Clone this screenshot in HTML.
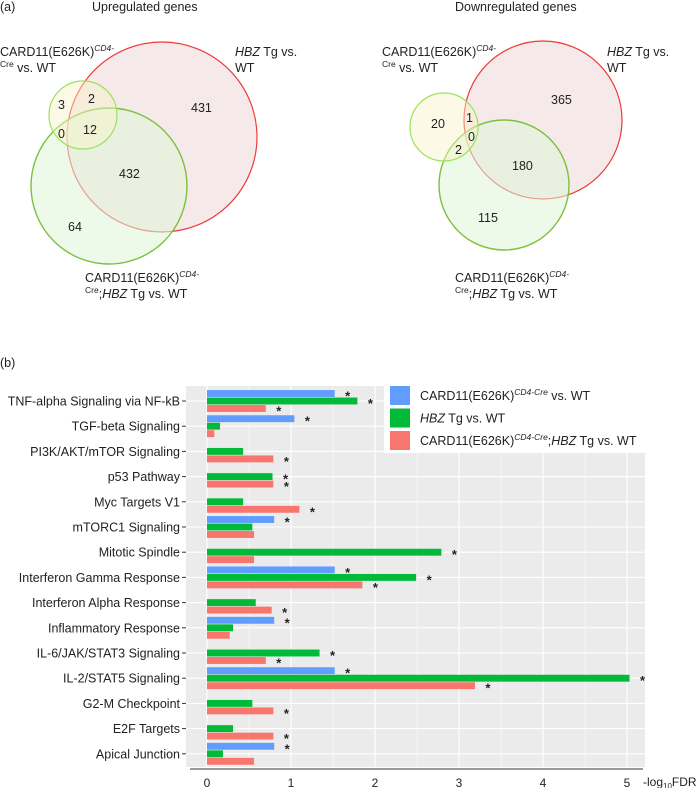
<!DOCTYPE html>
<html><head><meta charset="utf-8"><style>
body{margin:0;background:#fff;}
svg text{font-family:"Liberation Sans",sans-serif;fill:#222;}
</style></head><body>
<svg id="fig" width="698" height="788" xmlns="http://www.w3.org/2000/svg">
<g font-size="12.5">
<text x="0" y="11">(a)</text>
<text x="92" y="11">Upregulated genes</text>
<circle cx="162" cy="137" r="95" fill="#f3e3e3" fill-opacity="0.8" stroke="#ee3a3a" stroke-width="1.2"/>
<circle cx="109" cy="186" r="78" fill="#dff5d8" fill-opacity="0.55" stroke="#7cc13e" stroke-width="1.4"/>
<circle cx="83" cy="115" r="34" fill="#f8f3c8" fill-opacity="0.45" stroke="#9be35a" stroke-width="1.2"/>
<text x="58" y="109">3</text>
<text x="88" y="103">2</text>
<text x="191" y="112">431</text>
<text x="58" y="138">0</text>
<text x="83" y="134">12</text>
<text x="119" y="178">432</text>
<text x="68" y="231">64</text>
<text x="0" y="56">CARD11(E626K)<tspan font-size="8.5" font-style="italic" dy="-5">CD4-</tspan></text>
<text x="0" y="72"><tspan font-size="8.5" dy="-5">Cre</tspan><tspan dy="5"> vs. WT</tspan></text>
<text x="235" y="56"><tspan font-style="italic">HBZ</tspan> Tg vs.</text>
<text x="235" y="72">WT</text>
<text x="85" y="282">CARD11(E626K)<tspan font-size="8.5" font-style="italic" dy="-5">CD4-</tspan></text>
<text x="85" y="298"><tspan font-size="8.5" dy="-5">Cre</tspan><tspan dy="5">;</tspan><tspan font-style="italic">HBZ</tspan> Tg vs. WT</text>

<text x="455" y="11">Downregulated genes</text>
<circle cx="543" cy="120" r="79" fill="#f3e3e3" fill-opacity="0.8" stroke="#ee3a3a" stroke-width="1.2"/>
<circle cx="504" cy="185" r="65" fill="#dff5d8" fill-opacity="0.55" stroke="#7cc13e" stroke-width="1.4"/>
<circle cx="444" cy="127" r="34" fill="#f8f3c8" fill-opacity="0.45" stroke="#9be35a" stroke-width="1.2"/>
<text x="431" y="128">20</text>
<text x="466" y="122">1</text>
<text x="468" y="141">0</text>
<text x="455" y="154">2</text>
<text x="551" y="104">365</text>
<text x="512" y="170">180</text>
<text x="478" y="222">115</text>
<text x="382" y="56">CARD11(E626K)<tspan font-size="8.5" font-style="italic" dy="-5">CD4-</tspan></text>
<text x="382" y="72"><tspan font-size="8.5" dy="-5">Cre</tspan><tspan dy="5"> vs. WT</tspan></text>
<text x="607" y="56"><tspan font-style="italic">HBZ</tspan> Tg vs.</text>
<text x="607" y="72">WT</text>
<text x="455" y="282">CARD11(E626K)<tspan font-size="8.5" font-style="italic" dy="-5">CD4-</tspan></text>
<text x="455" y="298"><tspan font-size="8.5" dy="-5">Cre</tspan><tspan dy="5">;</tspan><tspan font-style="italic">HBZ</tspan> Tg vs. WT</text>
</g>
<text x="0" y="367" font-size="12.5">(b)</text>
<g id="chart"></g>
</svg>
<script>
const categories=["TNF-alpha Signaling via NF-kB","TGF-beta Signaling","PI3K/AKT/mTOR Signaling","p53 Pathway","Myc Targets V1","mTORC1 Signaling","Mitotic Spindle","Interferon Gamma Response","Interferon Alpha Response","Inflammatory Response","IL-6/JAK/STAT3 Signaling","IL-2/STAT5 Signaling","G2-M Checkpoint","E2F Targets","Apical Junction"];
const card11Values=[1.52,1.04,null,null,null,0.80,null,1.52,null,0.80,null,1.52,null,null,0.80];
const hbzValues=[1.79,0.155,0.43,0.78,0.43,0.54,2.79,2.49,0.58,0.31,1.34,5.03,0.54,0.31,0.19];
const doubleValues=[0.70,0.087,0.79,0.79,1.10,0.56,0.56,1.85,0.77,0.27,0.70,3.19,0.79,0.79,0.56];
const card11Sig=[1,1,0,0,0,1,0,1,0,1,0,1,0,0,1];
const hbzSig=[1,0,0,1,0,0,1,1,0,0,1,1,0,0,0];
const doubleSig=[1,0,1,1,1,0,0,1,1,0,1,1,1,1,0];
const xTicks=[0,1,2,3,4,5];
const NS="http://www.w3.org/2000/svg";
const g=document.getElementById('chart');
const X0=207,PX=84,pLeft=186,pRight=645,pTop=386,pBottom=767,row0=401,step=25.2,slot=7.5;
const xs=v=>X0+v*PX;
const ys=i=>row0+i*step;
function mk(tag,attrs){const el=document.createElementNS(NS,tag);for(const k in attrs)el.setAttribute(k,attrs[k]);g.appendChild(el);return el;}
let e=mk('rect',{x:pLeft,y:pTop,width:pRight-pLeft,height:pBottom-pTop,fill:'#ebebeb'});


for(let v=0;v<=5.5;v+=0.5){
 e=mk('line',{x1:xs(v),x2:xs(v),y1:pTop,y2:pBottom,stroke:'#fff','stroke-width':v%1===0?1.1:0.5});
 
 
}
categories.forEach((c,i)=>{
 e=mk('line',{x1:pLeft,x2:pRight,y1:ys(i),y2:ys(i),stroke:'#fff','stroke-width':1.1});
 
 
 e=mk('text',{x:180,y:ys(i)+4.5,'text-anchor':'end','font-size':12.5});
 e.textContent=c;
 
 
 e=mk('line',{x1:182,x2:186,y1:ys(i),y2:ys(i),stroke:'#333'});
 
 
});
const series=[[card11Values,card11Sig,'#619cff',-1],[hbzValues,hbzSig,'#00ba38',0],[doubleValues,doubleSig,'#f8766d',1]];
series.forEach(([vals,sig,col,off])=>{
 vals.forEach((v,i)=>{
  if(v===null)return;
  const yc=ys(i)+off*slot;
  e=mk('rect',{x:X0,y:yc-slot/2+0.3,width:xs(v)-X0,height:slot-0.6,fill:col});
  
  
  if(sig[i]){
   e=mk('text',{x:xs(v)+13,y:yc+7,'text-anchor':'middle','font-size':13,'font-weight':'bold'});
   e.textContent='*';
   
   
  }
 });
});
e=mk('line',{x1:190,x2:643,y1:769,y2:769,stroke:'#333','stroke-width':1});


xTicks.forEach(t=>{
 e=mk('text',{x:xs(t),y:787,'text-anchor':'middle','font-size':12});
 e.textContent=t;
 
 
});
e=mk('text',{x:643,y:786,'font-size':12});
e.innerHTML='-log<tspan font-size="8" dy="3">10</tspan><tspan dy="-3">FDR</tspan>';


e=mk('rect',{x:384,y:380,width:262,height:73,fill:'#fff'});


const legendLabels=['CARD11(E626K)<tspan font-size="8.5" font-style="italic" dy="-5">CD4-Cre</tspan><tspan dy="5"> vs. WT</tspan>','<tspan font-style="italic">HBZ</tspan> Tg vs. WT','CARD11(E626K)<tspan font-size="8.5" font-style="italic" dy="-5">CD4-Cre</tspan><tspan dy="5">;</tspan><tspan font-style="italic">HBZ</tspan> Tg vs. WT'];
const legendColors=['#619cff','#00ba38','#f8766d'];
legendLabels.forEach((l,k)=>{
 const y=386+k*22.5;
 e=mk('rect',{x:390,y:y,width:20,height:19,fill:legendColors[k]});
 
 
 e=mk('text',{x:420,y:y+14,'font-size':12.5});
 e.innerHTML=l;
 
 
});
</script>
</body></html>
